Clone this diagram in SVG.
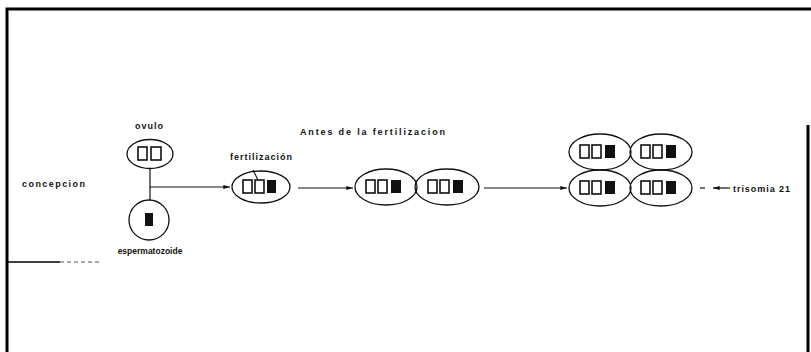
<svg xmlns="http://www.w3.org/2000/svg" width="811" height="352" viewBox="0 0 811 352">
<defs>
<style>
.lbl{font-family:"Liberation Sans",Arial,sans-serif;font-size:9px;font-weight:bold;fill:#111}
.cell{fill:none;stroke:#111;stroke-width:1.3}
.o{fill:none;stroke:#111;stroke-width:1.6}
.b{fill:#111}
.ln{stroke:#111;stroke-width:1.2;fill:none}
.frame{stroke:#000;stroke-width:3;fill:none}
</style>
<marker id="ah" viewBox="0 0 10 6" refX="10" refY="3" markerWidth="7" markerHeight="4" orient="auto" markerUnits="userSpaceOnUse">
<path d="M0,0 L10,3 L0,6 Z" fill="#111"/>
</marker>
</defs>
<rect width="811" height="352" fill="#fff"/>
<g id="frame">
<path class="frame" d="M7,352 V9 H811"/>
<path class="frame" d="M808,125 V352"/>
<path d="M7,262 H60" stroke="#000" stroke-width="1.5"/>
<path d="M60,262 H100" stroke="#555" stroke-width="1" stroke-dasharray="4 3"/>
</g>
<g id="title"><text class="lbl" x="300" y="135" textLength="145" lengthAdjust="spacing">Antes de la fertilizacion</text></g>
<g id="concepcion"><text class="lbl" x="22" y="187" textLength="63" lengthAdjust="spacing">concepcion</text></g>
<g id="ovulo">
<text class="lbl" x="135" y="129" textLength="28" lengthAdjust="spacing">ovulo</text>
<ellipse class="cell" cx="150" cy="154" rx="23" ry="14.5"/>
<rect class="o" x="138" y="147" width="9" height="13"/>
<rect class="o" x="151" y="147" width="10" height="13"/>
</g>
<g id="espermatozoide">
<ellipse class="cell" cx="149" cy="220" rx="20" ry="20"/>
<rect class="b" x="145" y="213" width="8" height="13"/>
<text class="lbl" x="150" y="254" text-anchor="middle" style="font-size:8.5px">espermatozoide</text>
</g>
<g id="fertilizacion">
<text class="lbl" x="230" y="160" textLength="62" lengthAdjust="spacing">fertilización</text>
<ellipse class="cell" cx="261" cy="187" rx="29" ry="16"/>
<rect class="o" x="243" y="180" width="9" height="13"/>
<rect class="o" x="255" y="180" width="9" height="13"/>
<rect class="b" x="267" y="180" width="9" height="13"/>
<path class="ln" d="M253,170 L258,180"/>
</g>
<g id="dos-celulas">
<ellipse class="cell" cx="386" cy="187" rx="31" ry="18"/>
<ellipse class="cell" cx="447" cy="187" rx="32" ry="18"/>
<rect class="o" x="366" y="180" width="9" height="13"/>
<rect class="o" x="378" y="180" width="9" height="13"/>
<rect class="b" x="391" y="180" width="10" height="13"/>
<rect class="o" x="428" y="180" width="9" height="13"/>
<rect class="o" x="440" y="180" width="9" height="13"/>
<rect class="b" x="453" y="180" width="10" height="13"/>
</g>
<g id="cuatro-celulas">
<ellipse class="cell" cx="600" cy="152" rx="31" ry="18"/>
<ellipse class="cell" cx="661" cy="152" rx="31" ry="18"/>
<ellipse class="cell" cx="600" cy="188" rx="31" ry="18"/>
<ellipse class="cell" cx="661" cy="188" rx="31" ry="18"/>
<rect class="o" x="580" y="145" width="9" height="13"/>
<rect class="o" x="592" y="145" width="9" height="13"/>
<rect class="b" x="605" y="145" width="10" height="13"/>
<rect class="o" x="641" y="145" width="9" height="13"/>
<rect class="o" x="653" y="145" width="9" height="13"/>
<rect class="b" x="666" y="145" width="10" height="13"/>
<rect class="o" x="580" y="181" width="9" height="13"/>
<rect class="o" x="592" y="181" width="9" height="13"/>
<rect class="b" x="605" y="181" width="10" height="13"/>
<rect class="o" x="641" y="181" width="9" height="13"/>
<rect class="o" x="653" y="181" width="9" height="13"/>
<rect class="b" x="666" y="181" width="10" height="13"/>
</g>
<g id="trisomia"><text class="lbl" x="733" y="192" textLength="57" lengthAdjust="spacing">trisomia 21</text></g>
<g id="connectors">
<path class="ln" d="M150,169 V200"/>
<path class="ln" d="M150,187 H230" marker-end="url(#ah)"/>
<path class="ln" d="M298,188 H353" marker-end="url(#ah)"/>
<path class="ln" d="M484,188 H567" marker-end="url(#ah)"/>
<path class="ln" d="M700,188 H705"/>
<path class="ln" d="M730,188 H713" marker-end="url(#ah)"/>
</g>
</svg>
